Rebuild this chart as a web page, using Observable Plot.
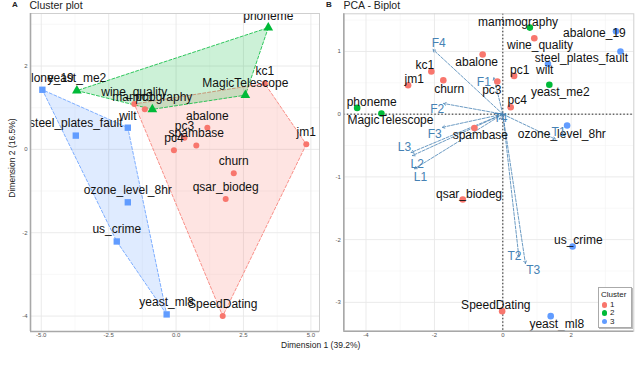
<!DOCTYPE html>
<html><head><meta charset="utf-8">
<script src="https://cdn.jsdelivr.net/npm/d3@7"></script>
<script src="https://cdn.jsdelivr.net/npm/@observablehq/plot@0.6"></script>
<style>
body{margin:0;background:#fff;font-family:"Liberation Sans",Arial,sans-serif;}
#wrap{position:relative;width:640px;height:378px;overflow:hidden;background:#fff;}
.abs{position:absolute;white-space:nowrap;line-height:1;}
#wrap svg{position:absolute;top:0;}
</style></head><body><div id="wrap"></div>
<script>
// ---- data ----
const datasets = ["phoneme","yeast_me2","MagicTelescope","mammography","kc1","jm1","abalone","pc3","spambase","pc4","churn","qsar_biodeg","SpeedDating","wine_quality","pc1","abalone_19","steel_plates_fault","wilt","ozone_level_8hr","us_crime","yeast_ml8"];
const cluster  = [2,2,2,2,1,1,1,1,1,1,1,1,1,1,1,3,3,3,3,3,3];
// Panel A: cluster plot coordinates
const dim1A = [3.42,-3.68,2.57,-0.88,3.29,4.83,1.16,0.31,0.75,-0.08,2.14,1.84,1.73,-1.55,-1.16,-4.96,-3.72,-1.79,-1.79,-2.20,-0.35];
const dim2A = [2.92,1.41,1.30,0.96,1.58,0.12,0.52,0.28,0.09,-0.02,-0.57,-1.19,-4.00,1.09,0.96,1.43,0.33,0.52,-1.27,-2.21,-3.96];
// Panel B: biplot coordinates
const dim1B = [-4.26,1.36,-3.55,0.79,-2.09,-2.77,-0.59,-0.16,-0.83,0.23,-1.74,-1.17,-0.02,0.92,0.33,3.31,3.44,1.32,1.88,2.04,1.40];
const dim2B = [0.10,0.47,0.01,1.38,0.68,0.46,0.95,0.52,-0.22,0.11,0.54,-1.36,-3.14,1.21,0.61,1.32,1.00,0.80,-0.18,-2.11,-3.22];
// Panel B: repelled label positions (data units)
const labelXB = [-3.834,1.680,-3.287,0.445,-2.277,-2.590,-0.764,-0.322,-0.658,0.421,-1.569,-0.989,-0.205,1.089,0.495,2.678,2.297,1.226,1.724,2.207,1.577];
const labelYB = [0.198,0.346,-0.100,1.466,0.787,0.553,0.824,0.389,-0.339,0.218,0.405,-1.269,-3.049,1.106,0.708,1.297,0.899,0.696,-0.324,-2.013,-3.351];
// Panel B: variable loadings (arrows)
const varNames  = ["F4","F1","F2","F3","L3","L2","L1","T2","T3","T1","T4"];
const varX      = [-2.04,-0.26,-1.73,-1.77,-2.68,-2.64,-2.58,0.47,0.66,1.54,-0.10];
const varY      = [1.03,0.58,0.17,-0.21,-0.61,-0.66,-0.87,-2.28,-2.38,-0.40,-0.08];
const varLabelX = [-1.873,-0.556,-1.920,-1.990,-2.877,-2.505,-2.409,0.342,0.890,1.630,-0.067];
const varLabelY = [1.131,0.510,0.075,-0.312,-0.526,-0.790,-1.004,-2.268,-2.480,-0.292,-0.069];
// ticks
const xTicksA = [-5,-2.5,0,2.5,5];
const xTickLabelsA = ["-5.0","-2.5","0.0","2.5","5.0"];
const xMinorA = [-3.75,-1.25,1.25,3.75];
const yTicksA = [2,0,-2,-4];
const yTickLabelsA = ["2","0","-2","-4"];
const yMinorA = [3,1,-1,-3];
const xTicksB = [-4,-2,0,2];
const xTickLabelsB = ["-4","-2","0","2"];
const xMinorB = [-3,-1,1,3];
const yTicksB = [1,0,-1,-2,-3];
const yTickLabelsB = ["1","0","-1","-2","-3"];
const yMinorB = [1.5,0.5,-0.5,-1.5,-2.5];
const clusterIds = [1,2,3];
const clusterColors = ["#F8766D","#00BA38","#619CFF"];
const clusterShapes = ["circle","triangle","square"];

// ---- build ----
const FONT = '"Liberation Sans", Arial, sans-serif';
const wrap = document.getElementById("wrap");
const rowsA = datasets.map((d,i)=>({name:d,c:cluster[i],x:dim1A[i],y:dim2A[i]}));
const rowsB = datasets.map((d,i)=>({name:d,c:cluster[i],x:dim1B[i],y:dim2B[i],lx:labelXB[i],ly:labelYB[i]}));
const vars = varNames.map((v,i)=>({name:v,x:varX[i],y:varY[i],lx:varLabelX[i],ly:varLabelY[i]}));
const fmt = (ticks,labels) => d => labels[ticks.indexOf(d)];

function hull(k){
  const pts = rowsA.filter(r=>r.c===k).map(r=>[r.x,r.y]);
  const h = d3.polygonHull(pts);
  return [...h, h[0]];
}
function grids(xMaj,xMin,yMaj,yMin){
  return [
    Plot.gridX(xMin,{stroke:"#f3f3f3",strokeOpacity:1,strokeWidth:0.6}),
    Plot.gridY(yMin,{stroke:"#f3f3f3",strokeOpacity:1,strokeWidth:0.6}),
    Plot.gridX(xMaj,{stroke:"#e8e8e8",strokeOpacity:1,strokeWidth:0.9}),
    Plot.gridY(yMaj,{stroke:"#e8e8e8",strokeOpacity:1,strokeWidth:0.9}),
  ];
}

const plotA = Plot.plot({
  width:322, height:345,
  marginLeft:30, marginRight:3, marginTop:13, marginBottom:14,
  x:{domain:[-5.40,5.32]}, y:{domain:[-4.37,3.26]},
  style:{fontFamily:FONT, background:"transparent", overflow:"visible"},
  marks:[
    ...grids(xTicksA,xMinorA,yTicksA,yMinorA),
    ...clusterIds.map((k,i)=>Plot.line(hull(k),{x:d=>d[0],y:d=>d[1],fill:clusterColors[i],fillOpacity:0.2,stroke:clusterColors[i],strokeWidth:0.8,strokeDasharray:"3,2",curve:"linear"})),
    ...clusterIds.map((k,i)=>Plot.dot(rowsA.filter(r=>r.c===k),{x:"x",y:"y",fill:clusterColors[i],symbol:clusterShapes[i],r:i===0?3:3.6})),
    Plot.text(rowsA,{x:"x",y:"y",text:"name",dy:-12,fontSize:12,fill:"#111",clip:true}),
    Plot.frame({stroke:"#cfcfcf",strokeWidth:1}),
    Plot.ruleY([-4.37],{stroke:"#a8a8a8",strokeWidth:1.6}),
    Plot.ruleX([-5.40],{stroke:"#a8a8a8",strokeWidth:1.6}),
    Plot.axisX(xTicksA,{tickSize:0,tickPadding:1.5,fontSize:6,color:"#555",label:null,tickFormat:fmt(xTicksA,xTickLabelsA)}),
    Plot.axisY(yTicksA,{tickSize:0,tickPadding:3,fontSize:6,color:"#555",label:null,tickFormat:fmt(yTicksA,yTickLabelsA)}),
  ]
});
plotA.style.left="0px";
wrap.appendChild(plotA);

const plotB = Plot.plot({
  width:318, height:345,
  marginLeft:21.3, marginRight:6.7, marginTop:13.3, marginBottom:14.3,
  x:{domain:[-4.65,3.83]}, y:{domain:[-3.46,1.60]},
  style:{fontFamily:FONT, background:"transparent", overflow:"visible"},
  marks:[
    ...grids(xTicksB,xMinorB,yTicksB,yMinorB),
    Plot.ruleX([0],{stroke:"#222",strokeWidth:1,strokeDasharray:"1.5,2"}),
    Plot.ruleY([0],{stroke:"#222",strokeWidth:1,strokeDasharray:"1.5,2"}),
    Plot.arrow(vars,{x1:()=>0,y1:()=>0,x2:"x",y2:"y",stroke:"#4682B4",strokeWidth:0.8,strokeDasharray:"3,1.5",headLength:5,bend:0}),
    Plot.dot(rowsB,{x:"x",y:"y",fill:d=>clusterColors[d.c-1],r:3.3}),
    Plot.text(rowsB,{x:"lx",y:"ly",text:"name",fontSize:12,fill:"#111",clip:true}),
    Plot.text(vars,{x:"lx",y:"ly",text:"name",fontSize:12,fill:"#4682B4"}),
    Plot.frame({stroke:"#cfcfcf",strokeWidth:1}),
    Plot.ruleY([-3.46],{stroke:"#a8a8a8",strokeWidth:1.6}),
    Plot.ruleX([-4.65],{stroke:"#a8a8a8",strokeWidth:1.6}),
    Plot.axisX(xTicksB,{tickSize:0,tickPadding:1.5,fontSize:6,color:"#555",label:null,tickFormat:fmt(xTicksB,xTickLabelsB)}),
    Plot.axisY(yTicksB,{tickSize:0,tickPadding:3,fontSize:6,color:"#555",label:null,tickFormat:fmt(yTicksB,yTickLabelsB)}),
  ]
});
plotB.style.left="322px";
wrap.appendChild(plotB);

function addText(txt,left,top,css){
  const d=document.createElement("div");
  d.className="abs"; d.textContent=txt;
  d.style.left=left+"px"; d.style.top=top+"px";
  Object.assign(d.style,css||{});
  wrap.appendChild(d); return d;
}
addText("A",12,1,{fontSize:"8px",fontWeight:"bold",color:"#222"});
addText("Cluster plot",29.5,0,{fontSize:"10.5px",color:"#222"});
addText("B",326,1,{fontSize:"8px",fontWeight:"bold",color:"#222"});
addText("PCA - Biplot",343.5,0,{fontSize:"10.5px",color:"#222"});
addText("Dimension 1 (39.2%)",281,341,{fontSize:"8.5px",color:"#222"});
const yt=addText("Dimension 2 (16.5%)",0,0,{fontSize:"8.5px",color:"#222"});
yt.style.left="12px"; yt.style.top="158px";
yt.style.transform="translate(-50%,-50%) rotate(-90deg)";

// legend in panel B
const lg=document.createElement("div");
lg.className="abs";
Object.assign(lg.style,{left:"598px",top:"287px",width:"32px",height:"39px",border:"1px solid #aaa",boxShadow:"1px 1px 0 #bbb",background:"#fff"});
wrap.appendChild(lg);
addText("Cluster",601,291,{fontSize:"8px",color:"#222"});
clusterIds.forEach((k,i)=>{
  const dot=document.createElement("div");
  dot.className="abs";
  Object.assign(dot.style,{left:"601.5px",top:(302+i*8.3)+"px",width:"5.5px",height:"5.5px",borderRadius:"50%",background:clusterColors[i]});
  wrap.appendChild(dot);
  addText(String(k),610,301+i*8.3,{fontSize:"8px",color:"#222"});
});
</script></body></html>
